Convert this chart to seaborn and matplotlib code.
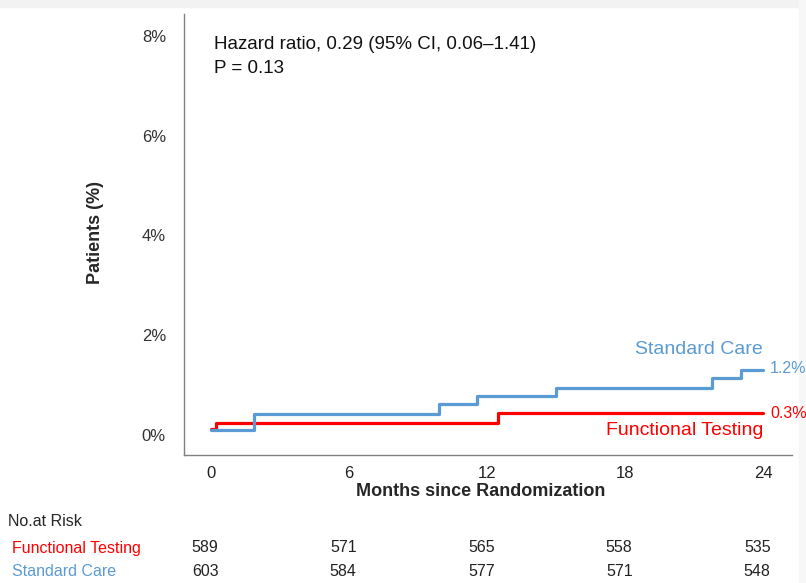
import pandas as pd
import seaborn as sns
import matplotlib.pyplot as plt
from matplotlib.patches import Rectangle
from matplotlib.transforms import blended_transform_factory

# --- data ---
std_months = [0, 1.87, 9.9, 11.55, 15.0, 21.77, 23.04, 24]
std_pct = [0.1, 0.42, 0.62, 0.78, 0.95, 1.14, 1.3, 1.3]
func_months = [0, 0.2, 12.47, 24]
func_pct = [0.12, 0.25, 0.45, 0.45]

risk_months = [0, 6, 12, 18, 24]
risk_func = [589, 571, 565, 558, 535]
risk_std = [603, 584, 577, 571, 548]

x_ticks = [0, 6, 12, 18, 24]
y_ticks = [0, 2, 4, 6, 8]

RED = "#ff0000"
BLUE = "#5b9bd5"

sns.set_style("white")
plt.rcParams['font.family'] = ['Liberation Sans', 'DejaVu Sans']

std = pd.DataFrame({'month': std_months, 'pct': std_pct})
func = pd.DataFrame({'month': func_months, 'pct': func_pct})

fig = plt.figure(figsize=(8.06, 5.83), dpi=100)
fig.patch.set_facecolor('white')
# light frame strips like the screenshot (behind everything else)
fig.patches.append(Rectangle((0, 1 - 7 / 583), 1, 7 / 583, transform=fig.transFigure,
                             color='#f2f2f2', zorder=-5))
fig.patches.append(Rectangle((799 / 806, 0), 7 / 806, 1, transform=fig.transFigure,
                             color='#f7f7f7', zorder=-5))

ax = fig.add_axes([184 / 806, 128 / 583, 608 / 806, 441 / 583])
ax.set_facecolor('none')

sns.lineplot(data=func, x='month', y='pct', ax=ax, color=RED, linewidth=2.3,
             drawstyle='steps-post', estimator=None, sort=False)
sns.lineplot(data=std, x='month', y='pct', ax=ax, color=BLUE, linewidth=2.3,
             drawstyle='steps-post', estimator=None, sort=False)

ax.set_xlim(-1.17, 25.26)
ax.set_ylim(-0.4, 8.44)
ax.set_xticks(x_ticks)
ax.set_xticklabels([str(t) for t in x_ticks], fontsize=12, color='#222222')
ax.set_yticks(y_ticks)
ax.set_yticklabels([f"{t}%" for t in y_ticks], fontsize=12, color='#333333')
ax.tick_params(axis='y', direction='out', length=4, width=0.8, color='#808080', pad=9)
ax.tick_params(axis='x', direction='out', length=4, width=0.8, color='#808080', pad=4)
ax.set_xlabel("")
ax.set_ylabel("")
for side in ['top', 'right']:
    ax.spines[side].set_visible(False)
for side in ['left', 'bottom']:
    ax.spines[side].set_color('#808080')
    ax.spines[side].set_linewidth(1.0)

# annotations
ax.text(0.13, 7.82, "Hazard ratio, 0.29 (95% CI, 0.06\u20131.41)", fontsize=13.5,
        color='#111111', va='center', ha='left')
ax.text(0.13, 7.34, "P = 0.13", fontsize=13.5, color='#111111', va='center', ha='left')

ax.text(24, 1.72, "Standard Care", color=BLUE, fontsize=14, ha='right', va='center')
ax.text(24.3, 1.33, "1.2%", color=BLUE, fontsize=11.5, ha='left', va='center', clip_on=False)
ax.text(24, 0.1, "Functional Testing", color=RED, fontsize=14, ha='right', va='center')
ax.text(24.3, 0.43, "0.3%", color=RED, fontsize=11.5, ha='left', va='center', clip_on=False)

fig.text(95 / 806, 1 - 232 / 583, "Patients (%)", rotation=90, fontsize=13,
         fontweight='bold', ha='center', va='center')
fig.text(481 / 806, 1 - 492 / 583, "Months since Randomization", fontsize=13,
         fontweight='bold', ha='center', va='center')

# number at risk table
fig.text(8 / 806, 1 - 521 / 583, "No.at Risk", fontsize=11.5, ha='left', va='center')
fig.text(12 / 806, 1 - 548 / 583, "Functional Testing", fontsize=11.5, color=RED,
         ha='left', va='center')
fig.text(12 / 806, 1 - 572 / 583, "Standard Care", fontsize=11.5, color=BLUE,
         ha='left', va='center')
trans = blended_transform_factory(ax.transData, fig.transFigure)
for m, nf, ns in zip(risk_months, risk_func, risk_std):
    ax.text(m - 0.25, 1 - 548 / 583, str(nf), transform=trans, fontsize=11.5,
            color='#222222', ha='center', va='center', clip_on=False)
    ax.text(m - 0.25, 1 - 572 / 583, str(ns), transform=trans, fontsize=11.5,
            color='#222222', ha='center', va='center', clip_on=False)

fig.savefig("out.png", dpi=100, facecolor=fig.get_facecolor())
plt.close(fig)
